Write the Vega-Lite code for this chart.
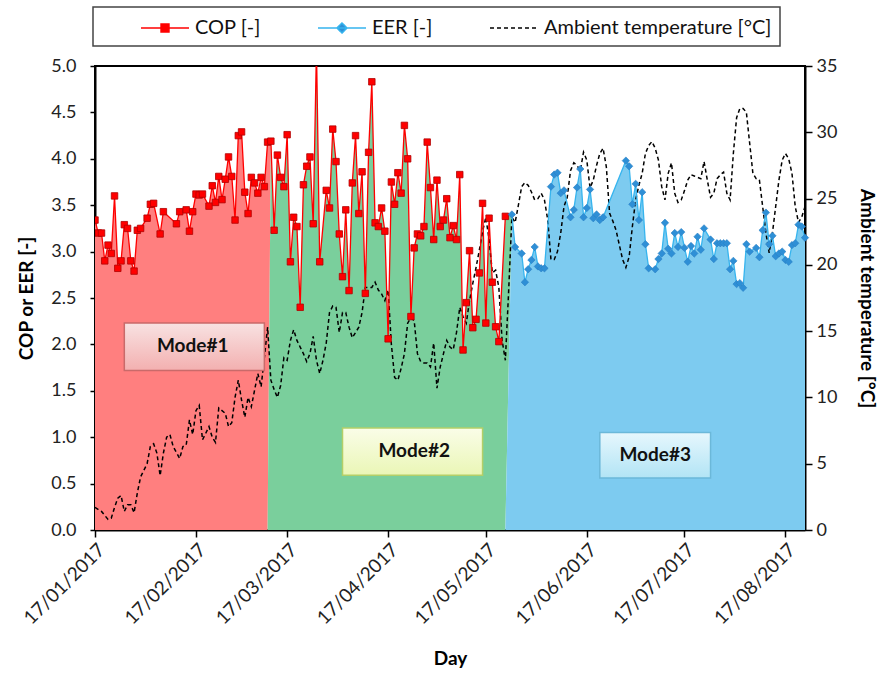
{
"$schema": "https://vega.github.io/schema/vega-lite/v6.json",
"width": 710, "height": 464,
"autosize": {"type": "none"},
"padding": {"left": 95, "top": 66, "right": 75, "bottom": 143},
"background": "white",
"config": {
  "font": "Lato",
  "view": {"stroke": "black", "strokeWidth": 2},
  "axis": {"grid": false, "domainColor": "black", "domainWidth": 2, "tickColor": "black", "tickWidth": 1.5, "labelFont": "Lato", "labelFontSize": 18, "labelColor": "#222", "titleFont": "Lato", "titleFontSize": 19, "titleFontWeight": "bold", "titleColor": "black"}
},
"data": {"format": {"parse": {"d": "date:'%Y-%m-%d'"}}, "values": [
{"d":"2017-01-17","v":3.34,"m":"1","t":1.7},
{"d":"2017-01-18","v":3.20,"m":"1"},
{"d":"2017-01-19","v":3.20,"m":"1","t":1.4},
{"d":"2017-01-20","v":2.90,"m":"1"},
{"d":"2017-01-21","v":3.07,"m":"1","t":0.8},
{"d":"2017-01-22","v":2.98,"m":"1","t":0.9},
{"d":"2017-01-23","v":3.60,"m":"1","t":1.7},
{"d":"2017-01-24","v":2.82,"m":"1","t":2.4},
{"d":"2017-01-25","v":2.90,"m":"1","t":2.6},
{"d":"2017-01-26","v":3.29,"m":"1","t":1.4},
{"d":"2017-01-27","v":3.25,"m":"1","t":1.9},
{"d":"2017-01-28","v":2.90,"m":"1","t":1.9},
{"d":"2017-01-29","v":2.79,"m":"1","t":1.3},
{"d":"2017-01-30","v":3.23,"m":"1","t":2.8},
{"d":"2017-01-31","v":3.25,"m":"1","t":4.0},
{"d":"2017-02-02","v":3.36,"m":"1","t":5.0},
{"d":"2017-02-03","v":3.51,"m":"1","t":6.3},
{"d":"2017-02-04","v":3.52,"m":"1","t":6.5},
{"d":"2017-02-05","t":5.8},
{"d":"2017-02-06","v":3.19,"m":"1","t":4.1},
{"d":"2017-02-07","v":3.43,"m":"1","t":5.8},
{"d":"2017-02-08","t":7.0},
{"d":"2017-02-09","t":7.2},
{"d":"2017-02-10","t":6.3},
{"d":"2017-02-11","v":3.30,"m":"1"},
{"d":"2017-02-12","v":3.43,"m":"1","t":5.4},
{"d":"2017-02-13","t":6.3},
{"d":"2017-02-14","v":3.45,"m":"1","t":6.4},
{"d":"2017-02-15","v":3.22,"m":"1","t":8.3},
{"d":"2017-02-16","v":3.43,"m":"1","t":7.2},
{"d":"2017-02-17","v":3.62,"m":"1","t":9.0},
{"d":"2017-02-18","v":3.61,"m":"1","t":9.4},
{"d":"2017-02-19","v":3.62,"m":"1","t":6.8},
{"d":"2017-02-20","t":7.3},
{"d":"2017-02-21","v":3.49,"m":"1","t":7.8},
{"d":"2017-02-22","v":3.71,"m":"1","t":7.0},
{"d":"2017-02-23","v":3.53,"m":"1","t":6.6},
{"d":"2017-02-24","v":3.81,"m":"1","t":9.2},
{"d":"2017-02-25","v":3.56,"m":"1"},
{"d":"2017-02-26","v":3.78,"m":"1","t":8.8},
{"d":"2017-02-27","v":4.02,"m":"1","t":7.8},
{"d":"2017-02-28","v":3.81,"m":"1","t":8.1},
{"d":"2017-03-01","v":3.34,"m":"1","t":10.0},
{"d":"2017-03-02","v":4.25,"m":"1","t":11.3},
{"d":"2017-03-03","v":4.29,"m":"1","t":9.8},
{"d":"2017-03-04","v":3.64,"m":"1","t":8.5},
{"d":"2017-03-05","v":3.41,"m":"1","t":10.0},
{"d":"2017-03-06","v":3.80,"m":"1","t":9.3},
{"d":"2017-03-07","v":3.74,"m":"1"},
{"d":"2017-03-08","v":3.63,"m":"1","t":11.8},
{"d":"2017-03-09","v":3.80,"m":"1","t":10.8},
{"d":"2017-03-10","v":3.70,"m":"1","t":13.0},
{"d":"2017-03-11","v":4.18,"m":"1","t":15.3},
{"d":"2017-03-12","v":4.19,"m":"2","t":11.3},
{"d":"2017-03-13","v":3.23,"m":"2","t":10.6},
{"d":"2017-03-14","v":4.04,"m":"2","t":10.0},
{"d":"2017-03-15","v":3.80,"m":"2","t":10.9},
{"d":"2017-03-16","v":3.70,"m":"2","t":13.0},
{"d":"2017-03-17","v":4.26,"m":"2","t":12.8},
{"d":"2017-03-18","v":2.89,"m":"2","t":14.3},
{"d":"2017-03-19","v":3.37,"m":"2","t":15.1},
{"d":"2017-03-20","v":3.27,"m":"2","t":14.3},
{"d":"2017-03-21","v":2.40,"m":"2","t":13.8},
{"d":"2017-03-22","v":3.72,"m":"2","t":13.3},
{"d":"2017-03-23","v":3.92,"m":"2","t":12.7},
{"d":"2017-03-24","v":4.02,"m":"2","t":13.3},
{"d":"2017-03-25","v":3.30,"m":"2","t":14.6},
{"d":"2017-03-26","v":5.20,"m":"2","t":12.8},
{"d":"2017-03-27","v":2.89,"m":"2","t":11.8},
{"d":"2017-03-28","t":12.8},
{"d":"2017-03-29","v":3.66,"m":"2","t":14.1},
{"d":"2017-03-30","v":3.47,"m":"2","t":16.4},
{"d":"2017-03-31","v":4.32,"m":"2","t":16.9},
{"d":"2017-04-01","v":3.97,"m":"2","t":16.8},
{"d":"2017-04-02","v":3.19,"m":"2","t":14.9},
{"d":"2017-04-03","v":2.73,"m":"2","t":16.4},
{"d":"2017-04-04","v":3.45,"m":"2","t":16.4},
{"d":"2017-04-05","v":2.58,"m":"2","t":15.3},
{"d":"2017-04-06","v":3.74,"m":"2","t":14.5},
{"d":"2017-04-07","v":4.25,"m":"2","t":14.9},
{"d":"2017-04-08","v":3.41,"m":"2","t":15.3},
{"d":"2017-04-09","v":3.86,"m":"2","t":16.4},
{"d":"2017-04-10","v":2.55,"m":"2","t":18.3},
{"d":"2017-04-11","v":4.07,"m":"2","t":18.3},
{"d":"2017-04-12","v":4.83,"m":"2","t":18.3},
{"d":"2017-04-13","v":3.31,"m":"2","t":18.7},
{"d":"2017-04-14","v":3.27,"m":"2","t":18.1},
{"d":"2017-04-15","v":3.47,"m":"2","t":17.8},
{"d":"2017-04-16","v":3.22,"m":"2","t":17.3},
{"d":"2017-04-17","v":2.06,"m":"2","t":18.1},
{"d":"2017-04-18","v":3.75,"m":"2","t":14.0},
{"d":"2017-04-19","v":3.51,"m":"2","t":11.5},
{"d":"2017-04-20","v":3.85,"m":"2","t":11.3},
{"d":"2017-04-21","v":3.63,"m":"2","t":12.2},
{"d":"2017-04-22","v":4.36,"m":"2","t":13.3},
{"d":"2017-04-23","v":4.00,"m":"2","t":15.6},
{"d":"2017-04-24","v":2.30,"m":"2","t":16.0},
{"d":"2017-04-25","v":3.04,"m":"2","t":15.8},
{"d":"2017-04-26","v":3.19,"m":"2","t":13.3},
{"d":"2017-04-27","v":3.17,"m":"2","t":12.7},
{"d":"2017-04-28","v":3.27,"m":"2","t":12.6},
{"d":"2017-04-29","v":4.18,"m":"2","t":12.6},
{"d":"2017-04-30","v":3.69,"m":"2","t":12.3},
{"d":"2017-05-01","v":3.13,"m":"2","t":14.1},
{"d":"2017-05-02","v":3.77,"m":"2","t":10.7},
{"d":"2017-05-03","v":3.27,"m":"2","t":12.3},
{"d":"2017-05-04","v":3.34,"m":"2","t":13.3},
{"d":"2017-05-05","v":3.57,"m":"2","t":14.3},
{"d":"2017-05-06","v":3.15,"m":"2","t":13.8},
{"d":"2017-05-07","v":3.28,"m":"2","t":13.6},
{"d":"2017-05-08","v":3.13,"m":"2","t":14.9},
{"d":"2017-05-09","v":3.83,"m":"2","t":16.8},
{"d":"2017-05-10","v":1.94,"m":"2","t":16.1},
{"d":"2017-05-11","v":2.45,"m":"2","t":15.6},
{"d":"2017-05-12","v":3.01,"m":"2","t":17.3},
{"d":"2017-05-13","v":2.18,"m":"2","t":18.6},
{"d":"2017-05-14","v":2.27,"m":"2","t":19.8},
{"d":"2017-05-15","v":2.77,"m":"2","t":21.1},
{"d":"2017-05-16","v":3.52,"m":"2","t":22.5},
{"d":"2017-05-17","v":2.23,"m":"2","t":23.6},
{"d":"2017-05-18","v":3.36,"m":"2","t":21.9},
{"d":"2017-05-19","v":2.67,"m":"2","t":19.4},
{"d":"2017-05-20","v":2.19,"m":"2","t":19.6},
{"d":"2017-05-21","v":2.03,"m":"2","t":18.3},
{"d":"2017-05-22","t":14.3},
{"d":"2017-05-23","v":3.38,"m":"2","t":12.8},
{"d":"2017-05-24","t":18.0},
{"d":"2017-05-25","v":3.40,"m":"3","t":23.6},
{"d":"2017-05-26","v":3.05,"m":"3","t":23.2},
{"d":"2017-05-27","t":24.5},
{"d":"2017-05-28","v":2.98,"m":"3","t":25.9},
{"d":"2017-05-29","v":2.67,"m":"3","t":26.2},
{"d":"2017-05-30","v":2.81,"m":"3","t":26.0},
{"d":"2017-05-31","v":2.91,"m":"3","t":25.5},
{"d":"2017-06-01","v":3.05,"m":"3","t":24.9},
{"d":"2017-06-02","v":2.84,"m":"3","t":25.0},
{"d":"2017-06-03","v":2.82,"m":"3","t":25.4},
{"d":"2017-06-04","v":2.82,"m":"3","t":24.9},
{"d":"2017-06-05","t":23.4},
{"d":"2017-06-06","v":3.70,"m":"3","t":20.4},
{"d":"2017-06-07","v":3.83,"m":"3","t":20.4},
{"d":"2017-06-08","v":3.85,"m":"3","t":21.0},
{"d":"2017-06-09","v":3.63,"m":"3","t":22.4},
{"d":"2017-06-10","v":3.66,"m":"3","t":24.4},
{"d":"2017-06-11","t":25.1},
{"d":"2017-06-12","v":3.37,"m":"3","t":27.1},
{"d":"2017-06-13","v":3.45,"m":"3","t":27.7},
{"d":"2017-06-14","v":3.69,"m":"3","t":27.5},
{"d":"2017-06-15","v":3.89,"m":"3","t":27.1},
{"d":"2017-06-16","v":3.37,"m":"3","t":28.5},
{"d":"2017-06-17","v":3.47,"m":"3","t":27.9},
{"d":"2017-06-18","v":3.67,"m":"3","t":25.8},
{"d":"2017-06-19","v":3.36,"m":"3","t":26.4},
{"d":"2017-06-20","v":3.40,"m":"3","t":27.5},
{"d":"2017-06-21","v":3.34,"m":"3","t":28.4},
{"d":"2017-06-22","v":3.37,"m":"3","t":28.8},
{"d":"2017-06-23","t":27.4},
{"d":"2017-06-24","t":23.9},
{"d":"2017-06-25","t":23.3},
{"d":"2017-06-26","t":22.6},
{"d":"2017-06-27","t":21.5},
{"d":"2017-06-28","t":20.4},
{"d":"2017-06-29","v":3.98,"m":"3","t":19.8},
{"d":"2017-06-30","v":3.92,"m":"3","t":20.6},
{"d":"2017-07-01","v":3.51,"m":"3","t":22.9},
{"d":"2017-07-02","v":3.73,"m":"3","t":24.9},
{"d":"2017-07-03","v":3.34,"m":"3","t":26.0},
{"d":"2017-07-04","v":3.64,"m":"3","t":26.9},
{"d":"2017-07-05","v":3.08,"m":"3","t":28.4},
{"d":"2017-07-06","v":2.82,"m":"3","t":29.0},
{"d":"2017-07-07","t":29.3},
{"d":"2017-07-08","v":2.81,"m":"3","t":28.8},
{"d":"2017-07-09","v":2.92,"m":"3","t":27.9},
{"d":"2017-07-10","v":2.98,"m":"3","t":25.9},
{"d":"2017-07-11","v":3.31,"m":"3","t":24.9},
{"d":"2017-07-12","v":3.03,"m":"3","t":26.9},
{"d":"2017-07-13","v":2.98,"m":"3","t":27.7},
{"d":"2017-07-14","v":3.20,"m":"3","t":25.4},
{"d":"2017-07-15","v":3.05,"m":"3","t":24.7},
{"d":"2017-07-16","v":3.21,"m":"3","t":24.9},
{"d":"2017-07-17","v":3.04,"m":"3","t":25.6},
{"d":"2017-07-18","v":2.89,"m":"3","t":26.4},
{"d":"2017-07-19","v":3.06,"m":"3","t":26.8},
{"d":"2017-07-20","v":2.98,"m":"3","t":26.7},
{"d":"2017-07-21","v":3.16,"m":"3","t":26.6},
{"d":"2017-07-22","v":3.02,"m":"3","t":26.5},
{"d":"2017-07-23","v":3.25,"m":"3","t":27.8},
{"d":"2017-07-24","t":26.4},
{"d":"2017-07-25","v":3.13,"m":"3","t":25.1},
{"d":"2017-07-26","v":2.92,"m":"3","t":25.4},
{"d":"2017-07-27","v":3.09,"m":"3","t":26.5},
{"d":"2017-07-28","v":3.09,"m":"3","t":26.8},
{"d":"2017-07-29","v":3.09,"m":"3","t":27.0},
{"d":"2017-07-30","v":3.09,"m":"3","t":25.4},
{"d":"2017-07-31","v":2.81,"m":"3","t":24.9},
{"d":"2017-08-01","v":2.90,"m":"3","t":28.4},
{"d":"2017-08-02","v":2.65,"m":"3","t":31.1},
{"d":"2017-08-03","v":2.66,"m":"3","t":31.8},
{"d":"2017-08-04","v":2.61,"m":"3","t":31.8},
{"d":"2017-08-05","v":3.08,"m":"3","t":31.5},
{"d":"2017-08-06","v":3.00,"m":"3","t":29.2},
{"d":"2017-08-07","t":26.9},
{"d":"2017-08-08","v":3.04,"m":"3","t":26.5},
{"d":"2017-08-09","v":2.94,"m":"3","t":26.4},
{"d":"2017-08-10","v":3.23,"m":"3","t":24.4},
{"d":"2017-08-11","v":3.42,"m":"3","t":22.4},
{"d":"2017-08-12","v":3.08,"m":"3","t":20.9},
{"d":"2017-08-13","v":3.17,"m":"3","t":22.4},
{"d":"2017-08-14","v":2.95,"m":"3","t":24.4},
{"d":"2017-08-15","v":2.98,"m":"3","t":26.4},
{"d":"2017-08-16","v":3.00,"m":"3","t":27.9},
{"d":"2017-08-17","v":2.91,"m":"3","t":28.4},
{"d":"2017-08-18","v":2.89,"m":"3","t":28.0},
{"d":"2017-08-19","v":3.07,"m":"3","t":26.9},
{"d":"2017-08-20","v":3.09,"m":"3","t":24.4},
{"d":"2017-08-21","v":3.29,"m":"3","t":23.2},
{"d":"2017-08-22","v":3.27,"m":"3","t":23.6},
{"d":"2017-08-23","v":3.15,"m":"3","t":24.4}
]},
"encoding": {
  "x": {"field": "d", "type": "temporal",
    "scale": {"domain": [{"year": 2017, "month": 1, "date": 17}, {"year": 2017, "month": 8, "date": 23}]},
    "axis": {"title": "Day", "format": "%d/%m/%Y", "labelAngle": -45, "labelFontSize": 19, "tickSize": 7, "labelPadding": 3, "titlePadding": 22,
      "values": [{"year": 2017, "month": 1, "date": 17}, {"year": 2017, "month": 2, "date": 17}, {"year": 2017, "month": 3, "date": 17}, {"year": 2017, "month": 4, "date": 17}, {"year": 2017, "month": 5, "date": 17}, {"year": 2017, "month": 6, "date": 17}, {"year": 2017, "month": 7, "date": 17}, {"year": 2017, "month": 8, "date": 17}]}}
},
"layer": [
  {
    "transform": [{"filter": "isValid(datum.v)"}],
    "mark": {"type": "area", "clip": true, "opacity": 1},
    "encoding": {
      "y": {"field": "v", "type": "quantitative", "scale": {"domain": [0, 5], "nice": false},
        "axis": {"title": "COP or EER [-]", "values": [0, 0.5, 1, 1.5, 2, 2.5, 3, 3.5, 4, 4.5, 5], "format": ".1f", "tickSize": 5, "labelPadding": 14, "titlePadding": 14}},
      "fill": {"field": "m", "type": "nominal", "scale": {"domain": ["1", "2", "3"], "range": ["#FF7F7F", "#7ACF9C", "#7DCBF0"]}, "legend": null}
    }
  },
  {
    "transform": [{"filter": "isValid(datum.t)"}],
    "mark": {"type": "line", "strokeDash": [4, 3], "strokeWidth": 1.5},
    "encoding": {
      "y": {"field": "t", "type": "quantitative", "scale": {"domain": [0, 35], "nice": false},
        "axis": {"orient": "right", "title": "Ambient temperature [°C]", "values": [0, 5, 10, 15, 20, 25, 30, 35], "tickSize": 7, "labelPadding": 4, "titlePadding": 20}},
      "color": {"datum": "Ambient temperature [°C]", "type": "nominal",
        "scale": {"domain": ["COP [-]", "EER [-]", "Ambient temperature [°C]"], "range": ["#FF0000", "#36B4EE", "#000000"]},
        "legend": {"orient": "none", "legendX": -2, "legendY": -59, "direction": "horizontal", "title": " ", "titleOrient": "left", "titlePadding": 51, "padding": 8,
          "strokeColor": "#444", "fillColor": "white", "symbolSize": 576, "symbolStrokeWidth": 1.5, "labelFont": "Lato", "labelFontSize": 20, "labelColor": "#111", "labelOffset": 17, "columnPadding": 54, "labelLimit": 400,
          "encode": {
            "legend": {"update": {"strokeWidth": {"value": 1.5}}},
            "symbols": {"update": {
              "shape": {"signal": "datum.value === 'COP [-]' ? 'M-2,0H2M-0.33,-0.33H0.33V0.33H-0.33Z' : datum.value === 'EER [-]' ? 'M-2,0H2M0,-0.42L0.42,0L0,0.42L-0.42,0Z' : 'M-2,0H2'"},
              "fill": {"signal": "datum.value === 'COP [-]' ? '#FF0000' : datum.value === 'EER [-]' ? '#2E8FD6' : 'transparent'"},
              "stroke": {"signal": "datum.value === 'COP [-]' ? '#FF0000' : datum.value === 'EER [-]' ? '#36B4EE' : '#000000'"},
              "strokeDash": {"signal": "datum.value === 'Ambient temperature [°C]' ? [4, 3] : [1, 0]"},
              "opacity": {"value": 1}
            }}
          }}
      }
    }
  },
  {
    "transform": [{"filter": "isValid(datum.v) && datum.m !== '3'"}],
    "mark": {"type": "line", "strokeWidth": 1.3, "clip": true},
    "encoding": {
      "y": {"field": "v", "type": "quantitative", "scale": {"domain": [0, 5], "nice": false}, "axis": null},
      "color": {"datum": "COP [-]", "type": "nominal"}
    }
  },
  {
    "transform": [{"filter": "isValid(datum.v) && datum.m !== '3'"}],
    "mark": {"type": "point", "shape": "square", "filled": true, "size": 42, "fill": "#FF0000", "stroke": "#B00000", "strokeWidth": 0.8, "opacity": 1, "clip": true},
    "encoding": {
      "y": {"field": "v", "type": "quantitative", "scale": {"domain": [0, 5], "nice": false}, "axis": null}
    }
  },
  {
    "transform": [{"filter": "isValid(datum.v) && datum.m === '3'"}],
    "mark": {"type": "line", "strokeWidth": 1.3},
    "encoding": {
      "y": {"field": "v", "type": "quantitative", "scale": {"domain": [0, 5], "nice": false}, "axis": null},
      "color": {"datum": "EER [-]", "type": "nominal"}
    }
  },
  {
    "transform": [{"filter": "isValid(datum.v) && datum.m === '3'"}],
    "mark": {"type": "point", "shape": "diamond", "filled": true, "size": 55, "fill": "#2E8FD6", "stroke": "#2A7FC4", "strokeWidth": 0.6, "opacity": 1},
    "encoding": {
      "y": {"field": "v", "type": "quantitative", "scale": {"domain": [0, 5], "nice": false}, "axis": null}
    }
  },
  {
    "data": {"format": {"parse": {"d": "date:'%Y-%m-%d'", "d2": "date:'%Y-%m-%d'"}}, "values": [
      {"mode": "Mode#1", "d": "2017-01-26", "d2": "2017-03-10", "y1": 1.72, "y2": 2.23}
    ]},
    "mark": {"type": "rect", "stroke": "#C96A6A", "strokeWidth": 1.5,
      "fill": {"gradient": "linear", "x1": 0, "y1": 0, "x2": 0, "y2": 1, "stops": [{"offset": 0, "color": "#F8E2E2"}, {"offset": 1, "color": "#F3B0B0"}]}},
    "encoding": {
      "x2": {"field": "d2"},
      "y": {"field": "y1", "type": "quantitative", "scale": {"domain": [0, 5], "nice": false}, "axis": null},
      "y2": {"field": "y2"}
    }
  },
  {
    "data": {"format": {"parse": {"d": "date:'%Y-%m-%d'", "d2": "date:'%Y-%m-%d'"}}, "values": [
      {"mode": "Mode#2", "d": "2017-04-03", "d2": "2017-05-16", "y1": 0.59, "y2": 1.10}
    ]},
    "mark": {"type": "rect", "stroke": "#B3CF68", "strokeWidth": 1.5,
      "fill": {"gradient": "linear", "x1": 0, "y1": 0, "x2": 0, "y2": 1, "stops": [{"offset": 0, "color": "#FAFDE8"}, {"offset": 1, "color": "#EAF6B6"}]}},
    "encoding": {
      "x2": {"field": "d2"},
      "y": {"field": "y1", "type": "quantitative", "scale": {"domain": [0, 5], "nice": false}, "axis": null},
      "y2": {"field": "y2"}
    }
  },
  {
    "data": {"format": {"parse": {"d": "date:'%Y-%m-%d'", "d2": "date:'%Y-%m-%d'"}}, "values": [
      {"mode": "Mode#3", "d": "2017-06-21", "d2": "2017-07-25", "y1": 0.56, "y2": 1.05}
    ]},
    "mark": {"type": "rect", "stroke": "#6BB8D9", "strokeWidth": 1.5,
      "fill": {"gradient": "linear", "x1": 0, "y1": 0, "x2": 0, "y2": 1, "stops": [{"offset": 0, "color": "#E6F7FD"}, {"offset": 1, "color": "#B2E4F5"}]}},
    "encoding": {
      "x2": {"field": "d2"},
      "y": {"field": "y1", "type": "quantitative", "scale": {"domain": [0, 5], "nice": false}, "axis": null},
      "y2": {"field": "y2"}
    }
  },
  {
    "data": {"format": {"parse": {"d": "date:'%Y-%m-%d'"}}, "values": [
      {"mode": "Mode#1", "d": "2017-02-16", "yc": 1.98},
      {"mode": "Mode#2", "d": "2017-04-25", "yc": 0.85},
      {"mode": "Mode#3", "d": "2017-07-08", "yc": 0.81}
    ]},
    "mark": {"type": "text", "font": "Lato", "fontSize": 19, "fontWeight": "bold", "color": "#111", "align": "center", "baseline": "middle"},
    "encoding": {
      "y": {"field": "yc", "type": "quantitative", "scale": {"domain": [0, 5], "nice": false}, "axis": null},
      "text": {"field": "mode"}
    }
  }
],
"resolve": {"scale": {"y": "independent"}}
}
